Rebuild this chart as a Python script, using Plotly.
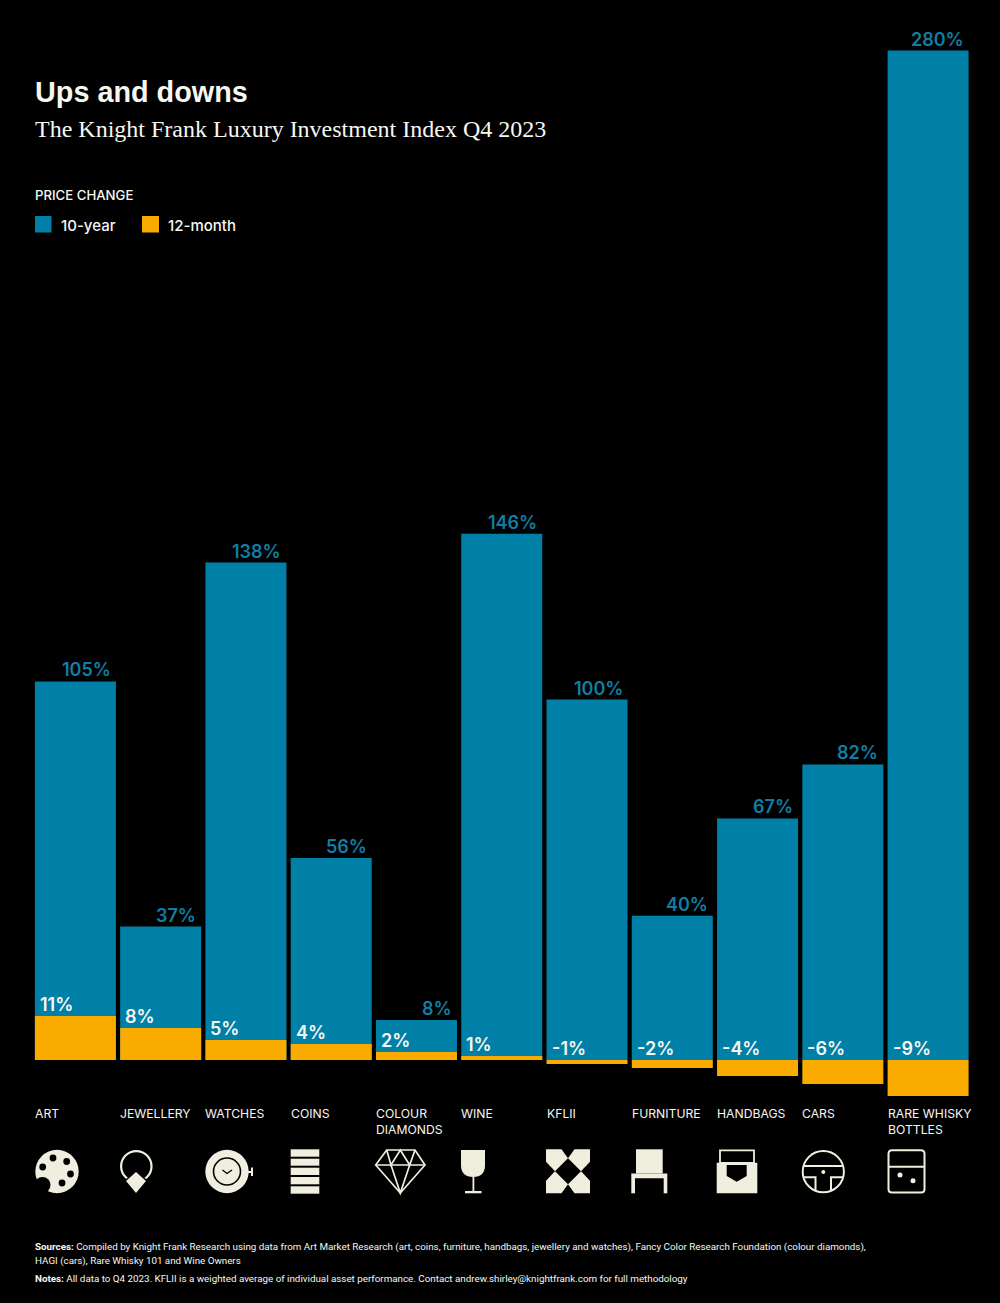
import re
import plotly.graph_objects as go

categories = ["ART", "JEWELLERY", "WATCHES", "COINS", "COLOUR<br>DIAMONDS", "WINE", "KFLII",
              "FURNITURE", "HANDBAGS", "CARS", "RARE WHISKY<br>BOTTLES"]
ten_year_heights = [105, 37, 138, 56, 11.1, 146, 100, 40, 67, 82, 280]   # drawn height (colour diamonds is drawn taller than its label)
ten_year_labels = ["105%", "37%", "138%", "56%", "8%", "146%", "100%", "40%", "67%", "82%", "280%"]
twelve_month = [11, 8, 5, 4, 2, 1, -1, -2, -4, -6, -9]
twelve_month_labels = ["11%", "8%", "5%", "4%", "2%", "1%", "-1%", "-2%", "-4%", "-6%", "-9%"]

BLUE = "#0080a6"
BLUE_TXT = "#0f7fa6"
ORANGE = "#f9ab00"
CREAM = "#f0eedf"
WHITE = "#f7f7f2"
SANS = "Inter"
W, H = 1000, 1303

xs = list(range(len(categories)))
PITCH, BAR_W, X0 = 85.27, 81.0, 75.4
ZERO, SCALE_10, SCALE_12 = 1060.0, 3.605, 4.0

fig = go.Figure()
fig.add_bar(x=xs, y=ten_year_heights, name="10-year", marker=dict(color=BLUE, line_width=0), yaxis="y", showlegend=False)
fig.add_bar(x=xs, y=twelve_month, name="12-month", marker=dict(color=ORANGE, line_width=0), yaxis="y2", showlegend=False)

shapes, ann = [], []


def note(px, py, text, size, color=WHITE, family=SANS, weight=None, anchor="middle", spacing=None):
    f = dict(family=family, size=size, color=color)
    if weight:
        f["weight"] = weight
    ann.append(dict(xref="paper", yref="paper", x=(px - 1) / W, y=1 - py / H, text=text, showarrow=False,
                    xanchor="left", yanchor=anchor, align="left", font=f, borderpad=0))


def _conv(d):
    i = [0]
    def rep(m):
        v = float(m.group(0))
        i[0] += 1
        return f"{v / W:.6f}" if i[0] % 2 == 1 else f"{1 - v / H:.6f}"
    return re.sub(r"-?\d+\.?\d*", rep, d)


def path(d, fill=CREAM, line=None, lw=0, rule="evenodd"):
    s = dict(type="path", xref="paper", yref="paper", path=_conv(d), fillcolor=fill, fillrule=rule, layer="above",
             line=dict(color=line or "rgba(0,0,0,0)", width=lw))
    shapes.append(s)


def stroke(d, lw=2, col=CREAM):
    path(d, fill="rgba(0,0,0,0)", line=col, lw=lw)


def rect(x0, y0, x1, y1, fill=CREAM, line=None, lw=0):
    path(f"M{x0},{y0}L{x1},{y0}L{x1},{y1}L{x0},{y1}Z", fill, line, lw)


def circle(cx, cy, r, fill=CREAM, line=None, lw=0):
    shapes.append(dict(type="circle", xref="paper", yref="paper", x0=(cx - r) / W, x1=(cx + r) / W,
                       y0=1 - (cy + r) / H, y1=1 - (cy - r) / H, fillcolor=fill, layer="above",
                       line=dict(color=line or "rgba(0,0,0,0)", width=lw)))


# header
note(35, 92, "Ups and downs", 28.8, family="Liberation Sans", weight=700)
note(35, 129, "The Knight Frank Luxury Investment Index Q4 2023", 24, family="Liberation Serif")
note(35, 195, "PRICE CHANGE", 13.2, weight=500)
rect(35, 216, 51.5, 232.5, BLUE)
note(60.5, 225, "10-year", 15, weight=500)
rect(142, 216, 159, 232.5, ORANGE)
note(168, 225, "12-month", 15, weight=500)

# data labels
for i in xs:
    ann.append(dict(xref="x", yref="y", x=xs[i], y=ten_year_heights[i], text=ten_year_labels[i], showarrow=False,
                    xanchor="right", yanchor="bottom", xshift=BAR_W / 2 - 4, yshift=0, borderpad=0,
                    font=dict(family=SANS, size=18, color=BLUE_TXT, weight=600)))
    ann.append(dict(xref="x", yref="y2", x=xs[i], y=max(twelve_month[i], 0), text=twelve_month_labels[i], showarrow=False,
                    xanchor="left", yanchor="bottom", xshift=-BAR_W / 2 + 4, yshift=0, borderpad=0,
                    font=dict(family=SANS, size=18, color=WHITE, weight=600)))
    ann.append(dict(xref="x", yref="paper", x=xs[i], y=1 - 1105 / H, text=categories[i], showarrow=False,
                    xanchor="left", yanchor="top", align="left", xshift=-BAR_W / 2 - 1, borderpad=0,
                    font=dict(family=SANS, size=12.2, color=WHITE)))

# footer
FOOT = "Roboto"
note(35, 1247, "<b>Sources:</b> Compiled by Knight Frank Research using data from Art Market Research (art, coins, furniture, handbags, jewellery and watches), Fancy Color Research Foundation (colour diamonds),", 9.8, family=FOOT)
note(35, 1261, "HAGI (cars), Rare Whisky 101 and Wine Owners", 9.8, family=FOOT)
note(35, 1278, "<b>Notes:</b> All data to Q4 2023. KFLII is a weighted average of individual asset performance. Contact andrew.shirley@knightfrank.com for full methodology", 9.8, family=FOOT)

# icons: art palette
circle(57, 1171.5, 21.7)
circle(42.5, 1185, 8, "#000000")
for c in [(53, 1158), (66.7, 1161.5), (70.5, 1174), (62, 1183), (42.7, 1167)]:
    circle(c[0], c[1], 3.4, "#000000")
# jewellery
circle(136.3, 1166.3, 15.2, "rgba(0,0,0,0)", CREAM, 2.2)
path("M136,1170L148,1181L136,1194L124,1181Z", "#000000")
path("M136,1172L146,1181L136,1193L126,1181Z")
# watches
circle(227, 1171.5, 21.7)
circle(227, 1171.5, 13.5, "rgba(0,0,0,0)", "#000000", 1.6)
stroke("M222.5,1170L227,1173.5L232,1170", 1.3, "#000000")
rect(247, 1171, 252, 1173)
rect(251, 1167.5, 253, 1176)
# coins
for a, b in [(1149.3, 1156.7), (1158.7, 1165.7), (1167.7, 1175), (1177, 1184.3), (1186.3, 1193.7)]:
    rect(290.7, a, 319.3, b)
# colour diamonds
stroke("M386.7,1150L415,1150L425,1165L400.3,1193L375.7,1165Z", 1.7)
stroke("M375.7,1165L425,1165", 1.7)
stroke("M386.7,1150L391,1165L400.3,1150L409.7,1165L415,1150", 1.7)
stroke("M391,1165L400.3,1193L409.7,1165", 1.7)
# wine
path("M461,1150L485,1150L485,1165Q485,1177 473.3,1177Q461,1177 461,1165Z")
rect(472.5, 1176, 474.3, 1192)
rect(465, 1191, 481.5, 1193.3)
# KFLII
cx, cy = 568, 1171.3
for sx in (-1, 1):
    for sy in (-1, 1):
        pts = [(22, 22), (6.5, 22), (0, 13), (13, 0), (22, 9.5)]
        d = "M" + "L".join(f"{cx + sx * a},{cy + sy * b}" for a, b in pts) + "Z"
        path(d)
# furniture
rect(636, 1149.3, 662.7, 1173.5)
rect(631.3, 1173.5, 667.3, 1178.3)
rect(631.3, 1178, 635, 1193.3)
rect(663.7, 1178, 667.3, 1193.3)
# handbags
rect(720, 1150.3, 754, 1163, "rgba(0,0,0,0)", CREAM, 1.8)
rect(716.7, 1162.7, 757.3, 1193.3)
path("M726.7,1165L746.7,1165L746.7,1176L736.7,1181.7L726.7,1176Z", "#000000")
# cars
circle(823.3, 1171.7, 20.6, "rgba(0,0,0,0)", CREAM, 2)
stroke("M804,1166L842.6,1166", 2)
stroke("M803.5,1177.3L815.5,1177.3L815.5,1190", 2)
stroke("M843,1177.3L831,1177.3L831,1190", 2)
circle(823.3, 1172, 2)
# rare whisky
stroke("M892,1150.3L921,1150.3Q924.5,1150.3 924.5,1154L924.5,1189Q924.5,1192.5 921,1192.5L892,1192.5Q888.5,1192.5 888.5,1189L888.5,1154Q888.5,1150.3 892,1150.3Z", 2)
stroke("M888.5,1166.7L924.5,1166.7", 2)
circle(900, 1175, 2.5)
circle(913, 1180.7, 2.5)

axis_off = dict(visible=False, showgrid=False, zeroline=False, fixedrange=True)
fig.update_layout(
    width=W, height=H, margin=dict(l=0, r=0, t=0, b=0, pad=0), autosize=False,
    paper_bgcolor="#000000", plot_bgcolor="#000000", barmode="overlay", bargap=1 - BAR_W / PITCH,
    showlegend=False, annotations=ann, shapes=shapes,
    xaxis=dict(axis_off, type="linear", range=[-X0 / PITCH, (W - X0) / PITCH]),
    yaxis=dict(axis_off, range=[(ZERO - H) / SCALE_10, ZERO / SCALE_10]),
    yaxis2=dict(axis_off, overlaying="y", range=[(ZERO - H) / SCALE_12, ZERO / SCALE_12]),
)

fig.write_html("out.html", config=dict(displayModeBar=False),
               post_script="document.body.style.margin='0';document.body.style.background='#000';document.body.style.overflow='hidden';")
